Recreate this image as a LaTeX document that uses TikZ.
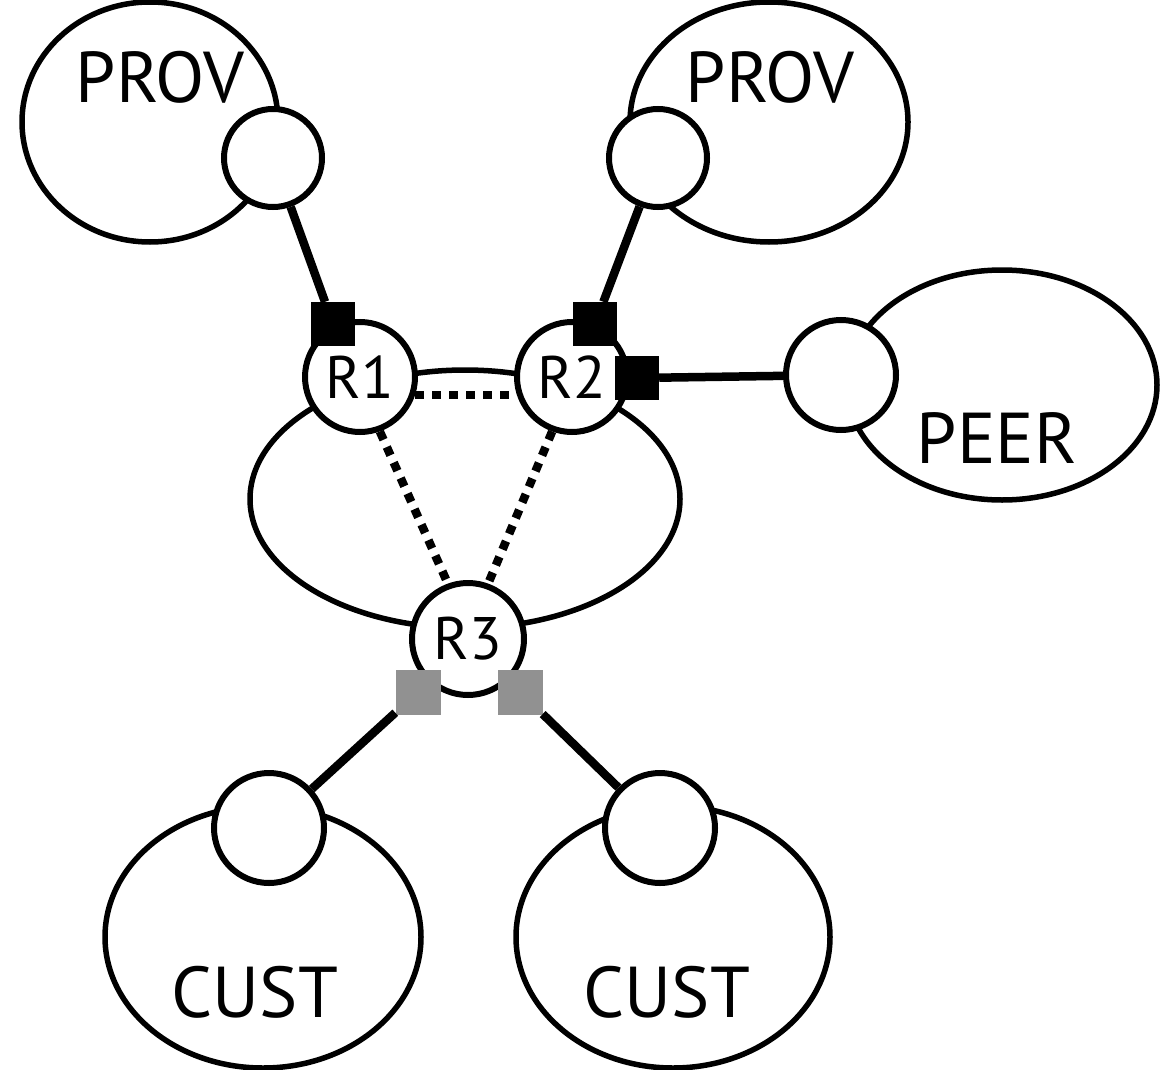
\documentclass[tikz,border=0pt]{standalone}
\usepackage{fontspec}
\setmainfont{PT Sans}
\usetikzlibrary{shapes.geometric}
\begin{document}
\begin{tikzpicture}[x=1pt,y=-1pt,
  as/.style={ellipse,draw,line width=5.5pt,inner sep=0pt},
  port/.style={circle,draw,fill=white,line width=6pt,inner sep=0pt,minimum size=98pt},
  router/.style={circle,draw,fill=white,line width=6pt,inner sep=0pt,minimum size=110pt,font=\fontsize{60}{66}\selectfont},
  lbl/.style={inner sep=0pt,font=\fontsize{72}{80}\selectfont},
  sqb/.style={rectangle,fill=black,inner sep=0pt,minimum size=44pt},
  sqg/.style={rectangle,fill=black!43,inner sep=0pt,minimum size=45pt},
  link/.style={line width=8.5pt},
  ibgp/.style={line width=8.5pt,dash pattern=on 9pt off 8pt}
]
\useasboundingbox (0,0) rectangle (1175,1070);
% AS clouds
\node[as,minimum width=256pt,minimum height=240pt] (provL) at (150,122) {};
\node[as,minimum width=278pt,minimum height=240pt] (provR) at (769,122) {};
\node[as,minimum width=310pt,minimum height=230pt] (peer) at (1002,385) {};
\node[as,minimum width=430pt,minimum height=258pt] (core) at (465,499) {};
\node[as,minimum width=316pt,minimum height=262pt] (custL) at (263,937) {};
\node[as,minimum width=314pt,minimum height=262pt] (custR) at (673,937) {};
% labels
\node[lbl] (tProvL) at (160,77) {PROV};
\node[lbl] (tProvR) at (770,77) {PROV};
\node[lbl] (tPeer) at (997,438) {PEER};
\node[lbl] (tCustL) at (255,992) {CUST};
\node[lbl] (tCustR) at (667,992) {CUST};
% border routers of neighbours
\node[port] (pL) at (273,158) {};
\node[port] (pR) at (658,158) {};
\node[port,minimum size=110pt] (pP) at (841,375) {};
\node[port,minimum size=110pt] (cL) at (269,828) {};
\node[port,minimum size=110pt] (cR) at (660,828) {};
% core routers
\node[router] (r1) at (360,377) {R1};
\node[router] (r2) at (572,377) {R2};
\node[router,minimum size=112pt] (r3) at (468,639) {R3};
% squares
\node[sqb] (s1) at (333,324) {};
\node[sqb] (s2) at (595,324) {};
\node[sqb] (s3) at (637,378) {};
\node[sqg] (g1) at (418,692) {};
\node[sqg] (g2) at (520,692) {};
% eBGP links
\draw[link] (pL) -- (s1);
\draw[link] (pR) -- (s2);
\draw[link] (s3) -- (pP);
\draw[link] (g1) -- (cL);
\draw[link] (g2) -- (cR);
% iBGP sessions
\draw[ibgp] (r1.-18) -- (r2.-162);
\draw[ibgp] (r1.-70) -- (r3.110);
\draw[ibgp] (r2.-110) -- (r3.70);
\end{tikzpicture}
\end{document}
